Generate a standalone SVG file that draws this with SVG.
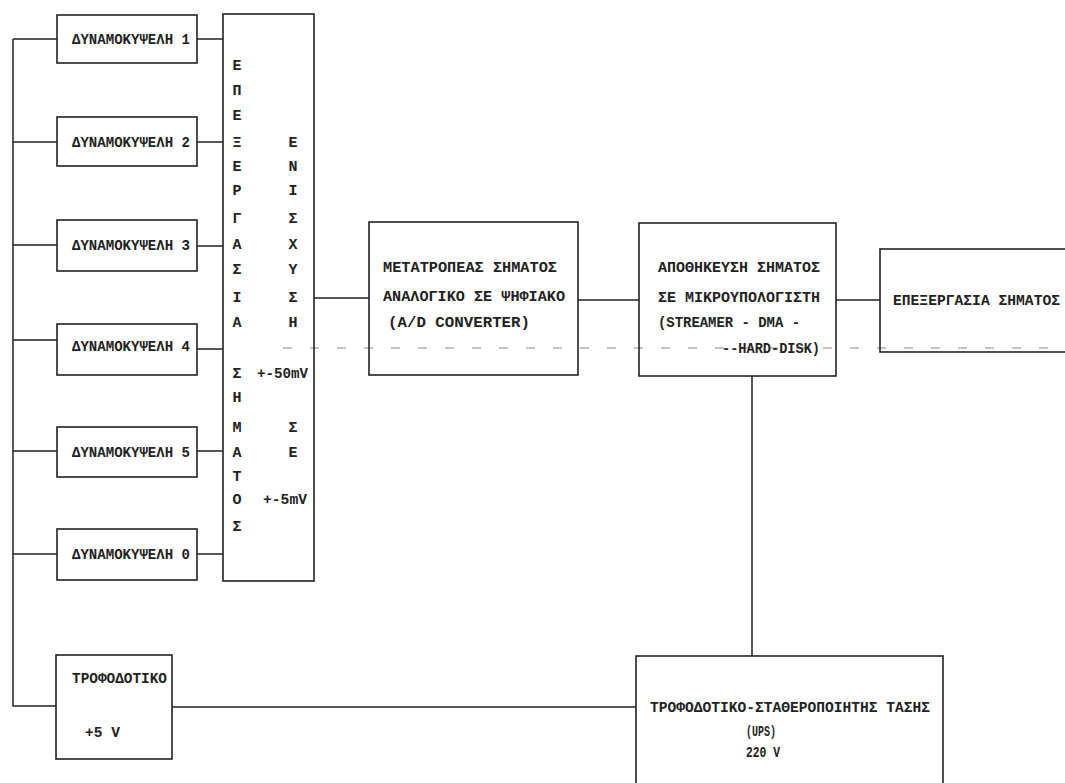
<svg xmlns="http://www.w3.org/2000/svg" width="1065" height="783" viewBox="0 0 1065 783">
<style>
.box{fill:none;stroke:#222;stroke-width:1.6}
.ln{fill:none;stroke:#222;stroke-width:1.5}
.art{fill:none;stroke:#888;stroke-width:1.2;stroke-dasharray:9 18}
text{font-family:"Liberation Mono","DejaVu Sans Mono",monospace;font-size:15px;font-weight:bold;fill:#222}
.c{text-anchor:middle}
</style>
<rect width="1065" height="783" fill="#fff"/>
<g id="connectors">
<path class="ln" d="M13,39 V706 H56"/>
<path class="ln" d="M13,39 H57 M13,142 H57 M13,245 H57 M13,340 H57 M13,451 H57 M13,554 H57"/>
<path class="ln" d="M197,39 H223 M197,142 H223 M197,246 H223 M197,349 H223 M197,451 H223 M197,554 H223"/>
<path class="ln" d="M314,298 H369"/>
<path class="ln" d="M578,300 H639"/>
<path class="ln" d="M836,300 H880"/>
<path class="ln" d="M752,376 V656"/>
<path class="ln" d="M172,707 H636"/>
<path class="art" d="M283,348 H1060"/>
</g>
<g id="cell1"><rect class="box" x="57" y="15" width="140" height="48"/><text x="72" y="44" textLength="118" lengthAdjust="spacingAndGlyphs">ΔΥΝΑΜΟΚΥΨΕΛΗ 1</text></g>
<g id="cell2"><rect class="box" x="57" y="117" width="140" height="49"/><text x="72" y="147" textLength="118" lengthAdjust="spacingAndGlyphs">ΔΥΝΑΜΟΚΥΨΕΛΗ 2</text></g>
<g id="cell3"><rect class="box" x="57" y="220" width="140" height="51"/><text x="72" y="250" textLength="118" lengthAdjust="spacingAndGlyphs">ΔΥΝΑΜΟΚΥΨΕΛΗ 3</text></g>
<g id="cell4"><rect class="box" x="57" y="324" width="140" height="51"/><text x="72" y="351" textLength="118" lengthAdjust="spacingAndGlyphs">ΔΥΝΑΜΟΚΥΨΕΛΗ 4</text></g>
<g id="cell5"><rect class="box" x="57" y="427" width="140" height="50"/><text x="72" y="457" textLength="118" lengthAdjust="spacingAndGlyphs">ΔΥΝΑΜΟΚΥΨΕΛΗ 5</text></g>
<g id="cell0"><rect class="box" x="57" y="529" width="140" height="51"/><text x="72" y="559" textLength="118" lengthAdjust="spacingAndGlyphs">ΔΥΝΑΜΟΚΥΨΕΛΗ 0</text></g>
<g id="processing-amplification">
<rect class="box" x="223" y="14" width="91" height="567"/>
<text class="c" x="237" y="70">Ε</text><text class="c" x="237" y="95">Π</text><text class="c" x="237" y="120">Ε</text><text class="c" x="237" y="147">Ξ</text><text class="c" x="237" y="171">Ε</text><text class="c" x="237" y="195">Ρ</text><text class="c" x="237" y="223">Γ</text><text class="c" x="237" y="249">Α</text><text class="c" x="237" y="274">Σ</text><text class="c" x="237" y="302">Ι</text><text class="c" x="237" y="327">Α</text>
<text class="c" x="237" y="378">Σ</text><text class="c" x="237" y="402">Η</text><text class="c" x="237" y="432">Μ</text><text class="c" x="237" y="457">Α</text><text class="c" x="237" y="481">Τ</text><text class="c" x="237" y="504">Ο</text><text class="c" x="237" y="531">Σ</text>
<text class="c" x="293" y="147">Ε</text><text class="c" x="293" y="171">Ν</text><text class="c" x="293" y="195">Ι</text><text class="c" x="293" y="223">Σ</text><text class="c" x="293" y="249">Χ</text><text class="c" x="293" y="274">Υ</text><text class="c" x="293" y="302">Σ</text><text class="c" x="293" y="327">Η</text>
<text class="c" x="293" y="432">Σ</text><text class="c" x="293" y="457">Ε</text>
<text x="257" y="378" textLength="51" lengthAdjust="spacingAndGlyphs">+-50mV</text>
<text x="263" y="504" textLength="44" lengthAdjust="spacingAndGlyphs">+-5mV</text>
</g>
<g id="adc">
<rect class="box" x="369" y="222" width="209" height="153"/>
<text x="383" y="272" textLength="174" lengthAdjust="spacingAndGlyphs">ΜΕΤΑΤΡΟΠΕΑΣ ΣΗΜΑΤΟΣ</text>
<text x="383" y="301" textLength="182" lengthAdjust="spacingAndGlyphs">ΑΝΑΛΟΓΙΚΟ ΣΕ ΨΗΦΙΑΚΟ</text>
<text x="388" y="327" textLength="142" lengthAdjust="spacingAndGlyphs">(A/D CONVERTER)</text>
</g>
<g id="storage">
<rect class="box" x="639" y="223" width="197" height="153"/>
<text x="658" y="272" textLength="162" lengthAdjust="spacingAndGlyphs">ΑΠΟΘΗΚΕΥΣΗ ΣΗΜΑΤΟΣ</text>
<text x="658" y="302" textLength="162" lengthAdjust="spacingAndGlyphs">ΣΕ ΜΙΚΡΟΥΠΟΛΟΓΙΣΤΗ</text>
<text x="658" y="327" textLength="142" lengthAdjust="spacingAndGlyphs">(STREAMER - DMA -</text>
<text x="722" y="353" textLength="98" lengthAdjust="spacingAndGlyphs">--HARD-DISK)</text>
</g>
<g id="signal-processing">
<rect class="box" x="880" y="249" width="200" height="103"/>
<text x="893" y="305" textLength="167" lengthAdjust="spacingAndGlyphs">ΕΠΕΞΕΡΓΑΣΙΑ ΣΗΜΑΤΟΣ</text>
</g>
<g id="power-5v">
<rect class="box" x="56" y="655" width="116" height="104"/>
<text x="72" y="683" textLength="95" lengthAdjust="spacingAndGlyphs">ΤΡΟΦΟΔΟΤΙΚΟ</text>
<text x="85" y="737" textLength="35" lengthAdjust="spacingAndGlyphs">+5 V</text>
</g>
<g id="ups">
<rect class="box" x="636" y="656" width="307" height="140"/>
<text x="650" y="712" textLength="280" lengthAdjust="spacingAndGlyphs">ΤΡΟΦΟΔΟΤΙΚΟ-ΣΤΑΘΕΡΟΠΟΙΗΤΗΣ ΤΑΣΗΣ</text>
<text x="746" y="736" textLength="30" lengthAdjust="spacingAndGlyphs">(UPS)</text>
<text x="746" y="757" textLength="34" lengthAdjust="spacingAndGlyphs">220 V</text>
</g>
</svg>
